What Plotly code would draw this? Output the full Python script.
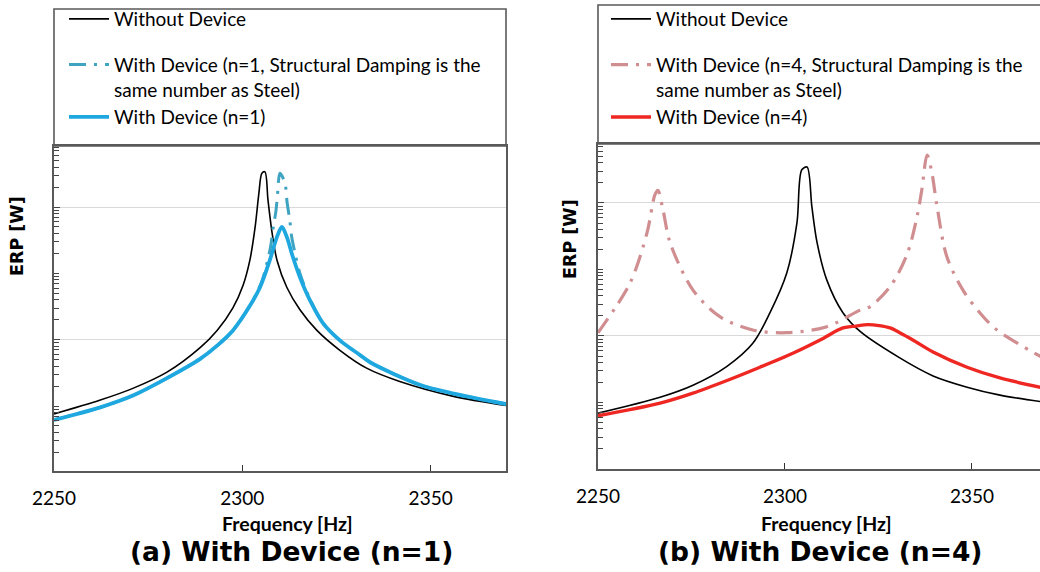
import plotly.graph_objects as go

W, H = 1040, 572

# ---------------- data ----------------
# Panel (a): With Device (n=1)
freq_a_without = [2250.0, 2262.3, 2271.1, 2280.0, 2288.8, 2293.3, 2297.5, 2300.2, 2302.0, 2303.4,
                  2304.4, 2305.2, 2306.0, 2306.8, 2307.9, 2309.2, 2311.8, 2315.3, 2319.8, 2325.9,
                  2333.0, 2341.8, 2355.8, 2370.0]
erp_a_without = [7.59e-4, 1.23e-3, 1.86e-3, 3.24e-3, 7.59e-3, 1.38e-2, 3.02e-2, 6.61e-2, 0.158, 0.501,
                 1.62, 3.24, 3.39, 1.29, 0.407, 0.158, 6.17e-2, 2.82e-2, 1.38e-2, 6.92e-3,
                 3.72e-3, 2.34e-3, 1.41e-3, 1.02e-3]

freq_a_steel = [2250.0, 2262.3, 2271.1, 2280.0, 2288.8, 2293.3, 2297.5, 2302.0, 2305.2, 2306.5,
                2307.5, 2308.2, 2308.9, 2309.3, 2310.0, 2311.3, 2311.9, 2312.6, 2313.1, 2314.0,
                2315.3, 2317.9, 2321.4, 2325.9, 2331.2, 2333.9, 2347.1, 2355.8, 2370.0]
erp_a_steel = [6.17e-4, 9.55e-4, 1.45e-3, 2.63e-3, 5.13e-3, 8.13e-3, 1.38e-2, 3.24e-2, 7.59e-2, 0.141,
               0.251, 0.501, 0.851, 1.43, 3.24, 2.29, 1.15, 0.631, 0.355, 0.200,
               0.100, 4.17e-2, 1.78e-2, 9.77e-3, 5.89e-3, 4.57e-3, 2.09e-3, 1.55e-3, 1.07e-3]

freq_a_device = [2250.0, 2262.3, 2271.1, 2280.0, 2288.8, 2293.3, 2297.5, 2302.0, 2304.7, 2307.3,
                 2309.2, 2310.5, 2311.8, 2313.4, 2315.3, 2317.9, 2321.4, 2325.9, 2331.2, 2333.9,
                 2347.1, 2355.8, 2370.0]
erp_a_device = [6.17e-4, 9.55e-4, 1.45e-3, 2.63e-3, 5.13e-3, 8.13e-3, 1.38e-2, 3.24e-2, 6.17e-2, 0.158,
                0.355, 0.501, 0.355, 0.178, 8.71e-2, 3.98e-2, 1.78e-2, 9.77e-3, 5.89e-3, 4.57e-3,
                2.09e-3, 1.55e-3, 1.07e-3]

# Panel (b): With Device (n=4)
freq_b_without = [2250.0, 2266.6, 2275.4, 2284.4, 2291.4, 2296.0, 2300.5, 2303.2, 2304.5, 2305.9,
                  2307.2, 2308.6, 2311.2, 2315.5, 2320.1, 2330.7, 2339.6, 2348.7, 2357.5, 2370.0]
erp_b_without = [6.92e-4, 1.20e-3, 1.82e-3, 3.47e-3, 7.76e-3, 2.24e-2, 8.91e-2, 0.501, 3.16, 3.47,
                 0.871, 0.251, 6.92e-2, 2.24e-2, 1.17e-2, 4.68e-3, 2.51e-3, 1.70e-3, 1.29e-3, 1.00e-3]

freq_b_steel = [2250.0, 2258.6, 2263.1, 2265.2, 2266.0, 2267.4, 2269.3, 2275.4, 2282.6, 2291.4,
                2300.5, 2311.2, 2320.1, 2322.7, 2328.1, 2332.6, 2335.3, 2336.6, 2338.0, 2339.3,
                2340.6, 2343.3, 2347.6, 2352.1, 2356.7, 2370.0]
erp_b_steel = [1.12e-2, 6.31e-2, 0.355, 1.32, 1.55, 0.776, 0.251, 4.90e-2, 1.95e-2, 1.23e-2,
               1.12e-2, 1.38e-2, 2.45e-2, 2.75e-2, 5.50e-2, 0.166, 0.617, 1.58, 5.25, 2.82,
               0.933, 0.155, 4.90e-2, 2.24e-2, 1.23e-2, 4.37e-3]

freq_b_device = [2250.0, 2266.6, 2275.4, 2284.5, 2293.3, 2302.1, 2309.4, 2315.5, 2319.0, 2322.2,
                 2325.2, 2328.1, 2330.7, 2334.2, 2339.6, 2348.7, 2357.5, 2370.0]
erp_b_device = [6.31e-4, 9.77e-4, 1.38e-3, 2.14e-3, 3.39e-3, 5.50e-3, 8.71e-3, 1.32e-2, 1.41e-2, 1.48e-2,
                1.43e-2, 1.32e-2, 1.12e-2, 8.71e-3, 5.75e-3, 3.39e-3, 2.34e-3, 1.62e-3]

x_ticks = [2250, 2300, 2350]
name_without = "Without Device"
name_a_steel = "With Device (n=1, Structural Damping is the<br>same number as Steel)"
name_a_device = "With Device (n=1)"
name_b_steel = "With Device (n=4, Structural Damping is the<br>same number as Steel)"
name_b_device = "With Device (n=4)"
caption_a = "(a) With Device (n=1)"
caption_b = "(b) With Device (n=4)"

# ---------------- styling ----------------
FONT = "Lato"
BOLD_FONT = "DejaVu Sans"
AXC = "#595959"
DASHDOT = "17px,8px,3px,8px"
SMOOTH = 0.9


def px(x):
    return x / W


def py(y):
    return 1 - y / H


fig = go.Figure()

fig.add_trace(go.Scatter(x=freq_a_without, y=erp_a_without, name=name_without, mode="lines",
                         line=dict(color="#000000", width=1.6, shape="spline", smoothing=SMOOTH),
                         xaxis="x", yaxis="y", legend="legend", legendgroup="a1"))
fig.add_trace(go.Scatter(x=freq_a_steel, y=erp_a_steel, name=name_a_steel, mode="lines",
                         line=dict(color="#3fa3c2", width=3, dash=DASHDOT, shape="spline", smoothing=SMOOTH),
                         xaxis="x", yaxis="y", legend="legend", legendgroup="a2"))
fig.add_trace(go.Scatter(x=freq_a_device, y=erp_a_device, name=name_a_device, mode="lines",
                         line=dict(color="#1fa8df", width=3.8, shape="spline", smoothing=SMOOTH),
                         xaxis="x", yaxis="y", legend="legend", legendgroup="a2"))

fig.add_trace(go.Scatter(x=freq_b_without, y=erp_b_without, name=name_without, mode="lines",
                         line=dict(color="#000000", width=1.6, shape="spline", smoothing=SMOOTH),
                         xaxis="x2", yaxis="y2", legend="legend2", legendgroup="b1"))
fig.add_trace(go.Scatter(x=freq_b_steel, y=erp_b_steel, name=name_b_steel, mode="lines",
                         line=dict(color="#d08e91", width=3.2, dash=DASHDOT, shape="spline", smoothing=SMOOTH),
                         xaxis="x2", yaxis="y2", legend="legend2", legendgroup="b2"))
fig.add_trace(go.Scatter(x=freq_b_device, y=erp_b_device, name=name_b_device, mode="lines",
                         line=dict(color="#ee2722", width=3.4, shape="spline", smoothing=SMOOTH),
                         xaxis="x2", yaxis="y2", legend="legend2", legendgroup="b2"))

minor_vals = [m * 10.0 ** k for k in range(-5, 2) for m in range(1, 10)]


def xaxis_cfg(domain, rng):
    return dict(domain=domain, range=rng, tickmode="array", tickvals=x_ticks,
                ticks="inside", ticklen=6, tickwidth=1.3, tickcolor="#333333",
                showline=True, linecolor=AXC, linewidth=1.6, mirror=True,
                showgrid=False, zeroline=False, ticklabelstandoff=9, automargin=False,
                tickfont=dict(family=FONT, size=19, color="#000000"))


def yaxis_cfg(domain, rng, anchor, mirror):
    return dict(domain=domain, type="log", range=rng, anchor=anchor,
                tickmode="array", tickvals=[1e-4, 1e-2, 1.0], showticklabels=False,
                ticks="inside", ticklen=6, tickwidth=1.2, tickcolor="#444444",
                showline=True, linecolor=AXC, linewidth=1.6, mirror=mirror,
                showgrid=True, gridcolor="#d9d9d9", gridwidth=1, zeroline=False, automargin=False,
                minor=dict(tickmode="array", tickvals=minor_vals, ticks="inside", ticklen=5,
                           tickwidth=1, tickcolor="#444444", showgrid=False))


legend_common = dict(xanchor="left", yanchor="top", bgcolor="rgba(0,0,0,0)", borderwidth=0,
                     font=dict(family=FONT, size=19, color="#000000"), valign="top",
                     tracegroupgap=18, traceorder="grouped", itemwidth=40)

fig.update_layout(
    width=W, height=H, margin=dict(l=0, r=0, t=0, b=0, autoexpand=False),
    paper_bgcolor="white", plot_bgcolor="white",
    xaxis=xaxis_cfg([px(54), px(506)], [2250, 2370]),
    yaxis=yaxis_cfg([py(471), py(146)], [-3.98, 0.92], "x", True),
    xaxis2=dict(xaxis_cfg([px(598), 1.0], [2250, 2368.2]), anchor="y2"),
    yaxis2=yaxis_cfg([py(469), py(144)], [-4.0, 0.887], "x2", False),
    legend=dict(legend_common, x=px(64), y=1.0),
    legend2=dict(legend_common, x=px(606), y=1.0),
    showlegend=True,
)

# legend frames
fig.add_shape(type="rect", xref="paper", yref="paper", x0=px(54), x1=px(506), y0=py(146), y1=py(9),
              line=dict(color=AXC, width=1.6), fillcolor="rgba(0,0,0,0)", layer="below")
fig.add_shape(type="rect", xref="paper", yref="paper", x0=px(598), x1=1.05, y0=py(144), y1=py(5),
              line=dict(color=AXC, width=1.6), fillcolor="rgba(0,0,0,0)", layer="below")

ann = []
for xx, yy in [(17, 236), (570, 239)]:
    ann.append(dict(text="ERP [W]", x=px(xx), y=py(yy), xref="paper", yref="paper", showarrow=False,
                    textangle=-90, font=dict(family=BOLD_FONT, size=17.5, color="#000000", weight="bold"),
                    xanchor="center", yanchor="middle"))
for xx in [287, 826]:
    ann.append(dict(text="Frequency [Hz]", x=px(xx), y=py(523), xref="paper", yref="paper",
                    showarrow=False, font=dict(family=FONT, size=19.5, color="#000000", weight="bold"),
                    xanchor="center", yanchor="middle"))
for xx, t in [(291, caption_a), (820, caption_b)]:
    ann.append(dict(text=t, x=px(xx), y=py(551), xref="paper", yref="paper", showarrow=False,
                    font=dict(family=BOLD_FONT, size=26.5, color="#000000", weight="bold"),
                    xanchor="center", yanchor="middle"))
fig.update_layout(annotations=ann)

fig.write_html("out.html", config={"displayModeBar": False},
               post_script="document.body.style.margin='0px';")
